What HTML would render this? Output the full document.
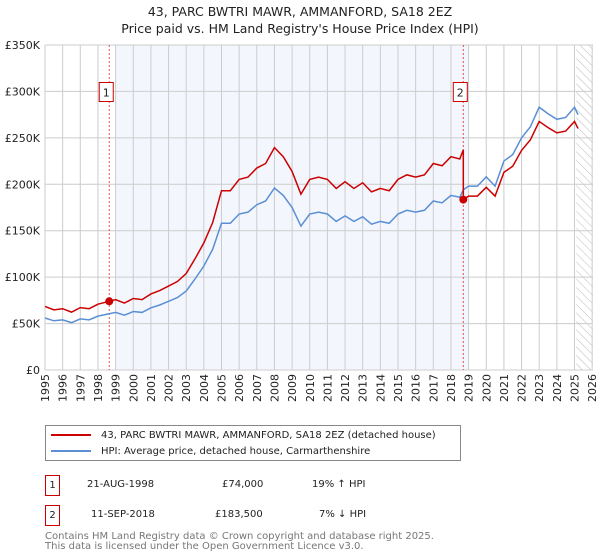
<!DOCTYPE html>
<html><head><meta charset="utf-8"><style>
body{margin:0;background:#fff;font-family:"DejaVu Sans","Liberation Sans",sans-serif;}
#wrap{position:relative;width:600px;height:560px;overflow:hidden}
.t{position:absolute;white-space:nowrap}
</style></head><body>
<div id="wrap">
<div class="t" style="left:0;width:600px;text-align:center;top:3px;font-size:12.5px;line-height:17px;color:#222">43, PARC BWTRI MAWR, AMMANFORD, SA18 2EZ<br>Price paid vs. HM Land Registry's House Price Index (HPI)</div>
<svg id="plot" width="600" height="410" style="position:absolute;left:0;top:0"></svg>
<div style="position:absolute;left:45px;top:425px;width:416px;height:36px;border:1px solid #888;box-sizing:border-box;font-size:10px;color:#222;white-space:nowrap">
 <div style="position:absolute;left:5px;top:4px"><span style="display:inline-block;width:40px;height:2px;background:#cc0000;vertical-align:middle;margin-right:10px"></span>43, PARC BWTRI MAWR, AMMANFORD, SA18 2EZ (detached house)</div>
 <div style="position:absolute;left:5px;top:20px"><span style="display:inline-block;width:40px;height:2px;background:#5b8fd4;vertical-align:middle;margin-right:10px"></span>HPI: Average price, detached house, Carmarthenshire</div>
</div>
<div style="position:absolute;left:45px;top:475px;font-size:10px;color:#222">
 <span style="position:absolute;left:0;top:0;width:15px;height:21px;border:1px solid #cc0000;box-sizing:border-box;text-align:center;line-height:19px">1</span>
 <span class="t" style="left:42px;top:4px">21-AUG-1998</span><span class="t" style="left:177px;top:4px">£74,000</span><span class="t" style="left:267px;top:4px">19% ↑ HPI</span>
</div>
<div style="position:absolute;left:45px;top:505px;font-size:10px;color:#222">
 <span style="position:absolute;left:0;top:0;width:15px;height:21px;border:1px solid #cc0000;box-sizing:border-box;text-align:center;line-height:19px">2</span>
 <span class="t" style="left:46px;top:4px">11-SEP-2018</span><span class="t" style="left:170px;top:4px">£183,500</span><span class="t" style="left:274px;top:4px">7% ↓ HPI</span>
</div>
<div class="t" style="left:45px;top:532px;font-size:10px;line-height:10px;color:#777">Contains HM Land Registry data © Crown copyright and database right 2025.<br>This data is licensed under the Open Government Licence v3.0.</div>
</div>
<script>
const hpiYears=[1995,1995.5,1996,1996.5,1997,1997.5,1998,1998.5,1999,1999.5,2000,2000.5,2001,2001.5,2002,2002.5,2003,2003.5,2004,2004.5,2005,2005.5,2006,2006.5,2007,2007.5,2008,2008.5,2009,2009.5,2010,2010.5,2011,2011.5,2012,2012.5,2013,2013.5,2014,2014.5,2015,2015.5,2016,2016.5,2017,2017.5,2018,2018.5,2018.7,2019,2019.5,2020,2020.5,2021,2021.5,2022,2022.5,2023,2023.5,2024,2024.5,2025,2025.2];
const hpiValues=[56,53,54,51,55,54,58,60,62,59,63,62,67,70,74,78,85,98,112,130,158,158,168,170,178,182,196,188,175,155,168,170,168,160,166,160,165,157,160,158,168,172,170,172,182,180,188,186,194,198,198,208,198,225,232,250,262,283,276,270,272,283,275];
const saleYears=[1998.64,2018.7];
const salePrices=[74,183.5];
const yTicks=[0,50,100,150,200,250,300,350];
const xTicks=[1995,1996,1997,1998,1999,2000,2001,2002,2003,2004,2005,2006,2007,2008,2009,2010,2011,2012,2013,2014,2015,2016,2017,2018,2019,2020,2021,2022,2023,2024,2025,2026];
const NS="http://www.w3.org/2000/svg";
const svg=document.getElementById('plot');
const L=45,R=593,T=45,B=370;
const X=v=>45+(v-1995)*17.65;
const Y=v=>B-(v/350)*(B-T);
function el(n,a,p){const e=document.createElementNS(NS,n);for(const k in a)e.setAttribute(k,a[k]);(p||svg).appendChild(e);return e;}
let sh=el('rect',{x:X(1999),y:T,width:X(2019)-X(1999),height:B-T,fill:'#eef3fc',opacity:0.7});


const defs=el('defs',{});
const pat=el('pattern',{id:'h',width:6,height:6,patternUnits:'userSpaceOnUse',patternTransform:'rotate(-45)'},defs);
el('line',{x1:0,y1:0,x2:0,y2:6,stroke:'#bbb','stroke-width':1},pat);
let ht=el('rect',{x:X(2025.1),y:T,width:R-X(2025.1),height:B-T,fill:'url(#h)'});


xTicks.forEach(t=>{let g=el('line',{x1:X(t),x2:X(t),y1:T,y2:B,stroke:'#ccc','stroke-width':1});


let tx=el('text',{x:0,y:0,transform:'translate('+(X(t)+4)+',374) rotate(-90)','font-size':11,'text-anchor':'end',fill:'#222','font-family':'DejaVu Sans, Liberation Sans, sans-serif'});tx.textContent=t;

});
yTicks.forEach(t=>{let g=el('line',{x1:L,x2:R,y1:Y(t),y2:Y(t),stroke:'#ccc','stroke-width':1});


let tx=el('text',{x:40,y:Y(t)+4,'font-size':11,'text-anchor':'end',fill:'#222','font-family':'DejaVu Sans, Liberation Sans, sans-serif'});tx.textContent=t===0?'£0':'£'+t+'K';

});
saleYears.forEach((s,i)=>{let v=el('line',{x1:X(s),x2:X(s),y1:T,y2:B,stroke:'#e05050','stroke-width':1,'stroke-dasharray':'2,2'});


let bx=el('rect',{x:X(s)-10,y:Y(301)-8,width:14,height:19,fill:'#fff',stroke:'#cc0000'});


let tx=el('text',{x:X(s)-3,y:Y(301)+6,'font-size':11,'text-anchor':'middle',fill:'#222','font-family':'DejaVu Sans, sans-serif'});tx.textContent=i+1;

});
function interp(t){for(let i=0;i<hpiYears.length-1;i++){if(t<=hpiYears[i+1]){const f=(t-hpiYears[i])/(hpiYears[i+1]-hpiYears[i]);return hpiValues[i]+f*(hpiValues[i+1]-hpiValues[i]);}}return hpiValues[hpiValues.length-1];}
let hp=el('polyline',{points:hpiYears.map((t,i)=>X(t)+','+Y(hpiValues[i])).join(' '),fill:'none',stroke:'#5b8fd4','stroke-width':1.5});


const r1=salePrices[0]/interp(saleYears[0]),r2=salePrices[1]/interp(saleYears[1]);
let pts=[];
hpiYears.forEach((t,i)=>{if(t<saleYears[1])pts.push(X(t)+','+Y(hpiValues[i]*r1));});
pts.push(X(saleYears[1])+','+Y(interp(saleYears[1])*r1));
pts.push(X(saleYears[1])+','+Y(salePrices[1]));
hpiYears.forEach((t,i)=>{if(t>saleYears[1])pts.push(X(t)+','+Y(hpiValues[i]*r2));});
let pl=el('polyline',{points:pts.join(' '),fill:'none',stroke:'#cc0000','stroke-width':1.5});


saleYears.forEach((s,i)=>{let c=el('circle',{cx:X(s),cy:Y(salePrices[i]),r:4,fill:'#cc0000'});

});
</script>
</body></html>
